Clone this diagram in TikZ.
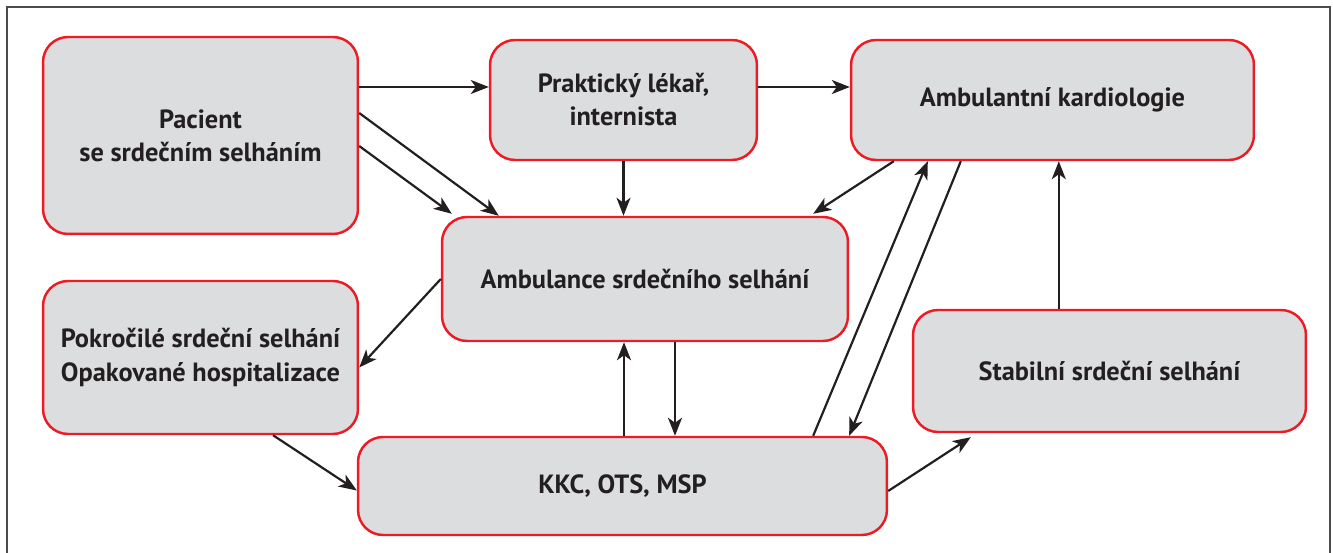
\documentclass[tikz,border=0pt]{standalone}
\usepackage{fontspec}
\setmainfont{PT Sans}
\usepackage{xcolor}
\usetikzlibrary{arrows.meta,calc}
\definecolor{boxred}{RGB}{237,28,36}
\definecolor{boxgray}{RGB}{220,221,223}
\definecolor{inkdark}{RGB}{35,31,32}

\begin{document}
\begin{tikzpicture}[x=0.02cm,y=-0.02cm,
    stage/.style={draw=boxred,line width=1.4pt,fill=boxgray,rounded corners=0.5cm,
      align=center,text=inkdark,inner sep=0pt,
      font=\fontsize{15}{18.8}\selectfont\bfseries},
    arr/.style={draw=inkdark,line width=1.25pt,
      -{Stealth[length=0.36cm,width=0.28cm,inset=0.1cm]}}]
    \useasboundingbox (0,0) rectangle (1333,553);
    \draw[line width=1.1pt,black!70] (7,553) -- (7,7) -- (1330,7) -- (1330,553);
    % boxes
    \node[stage,minimum width=6.3cm,minimum height=3.94cm] (pac) at (200.5,135.5) {Pacient\\se srdečním selháním};
    \node[stage,minimum width=5.34cm,minimum height=2.4cm] (prak) at (623.5,100) {Praktický lékař,\\internista};
    \node[stage,minimum width=8.06cm,minimum height=2.4cm] (kard) at (1052.5,100) {Ambulantní kardiologie};
    \node[stage,minimum width=8.12cm,minimum height=2.48cm] (amb) at (645,279) {Ambulance srdečního selhání};
    \node[stage,minimum width=6.3cm,minimum height=3.06cm] (pok) at (200.5,357.5) {Pokročilé srdeční selhání\\Opakované hospitalizace};
    \node[stage,minimum width=7.86cm,minimum height=2.44cm] (stab) at (1109.5,371) {Stabilní srdeční selhání};
    \node[stage,minimum width=10.58cm,minimum height=1.96cm] (kkc) at (622.5,486) {KKC, OTS, MSP};
    % arrows
    \coordinate (top) at ($(pac.east)+(0,-48.5)$);
    \draw[arr] (top) -- (top -| prak.west);
    \draw[arr] (top -| prak.east) -- (top -| kard.west);
    \draw[arr] ($(pac.east)+(0,-22.5)$) -- ($(amb.north west)+(58,0)$);
    \draw[arr] ($(pac.east)+(0,10.5)$) -- ($(amb.north west)+(11,-2)$);
    \draw[arr] (prak.south) -- (prak.south |- amb.north);
    \draw[arr] ($(kard.south west)+(44,0)$) -- ($(amb.north east)+(-36,-2)$);
    \draw[arr] ($(kkc.north east)+(-75,0)$) -- ($(kard.south west)+(78,0)$);
    \draw[arr] ($(kard.south west)+(111,0)$) -- ($(kkc.north east)+(-39,0)$);
    \draw[arr] ($(kkc.east)+(0,5)$) -- ($(stab.south west)+(59,4)$);
    \coordinate (up) at ($(stab.north west)+(147,0)$);
    \draw[arr] (up) -- (up |- kard.south);
    \draw[arr] (amb.west) -- ($(pok.east)+(0,10)$);
    \draw[arr] ($(pok.south)+(72.5,0)$) -- ($(kkc.west)+(0,4.5)$);
    \coordinate (dn) at ($(amb.south)+(30,0)$);
    \coordinate (back) at ($(amb.south)+(-21,0)$);
    \draw[arr] (dn) -- (dn |- kkc.north);
    \draw[arr] (back |- kkc.north) -- (back);
\end{tikzpicture}
\end{document}
